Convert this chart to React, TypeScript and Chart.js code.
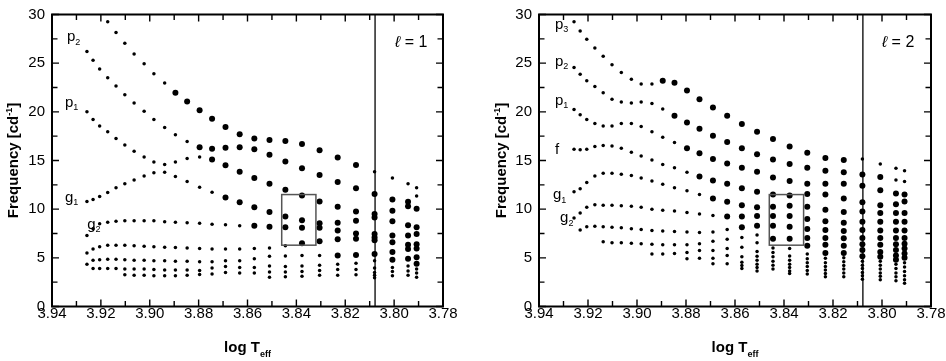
import React, { useEffect, useRef } from "react";
import { Chart, registerables } from "chart.js";

Chart.register(...registerables);

// Model columns (log Teff)
const logTeff = [
  3.9257, 3.9232, 3.9205, 3.9172, 3.9138, 3.9102, 3.9064, 3.9023, 3.8983,
  3.8939, 3.8895, 3.8847, 3.8796, 3.8745, 3.869, 3.8632, 3.8572, 3.851,
  3.8445, 3.8377, 3.8305, 3.8231, 3.8156, 3.808, 3.8007, 3.7943, 3.7908,
];

const xTicks = [3.94, 3.92, 3.9, 3.88, 3.86, 3.84, 3.82, 3.8, 3.78];
const yTicks = [0, 5, 10, 15, 20, 25, 30];

// l = 1 : frequencies per column, stable (small dots) and unstable (large dots)
const l1Small = [
  [26.2, 20.0, 10.8, 7.3, 5.5, 4.35],
  [25.3, 19.2, 11.0, 8.0, 5.9, 4.75, 3.9],
  [24.4, 18.55, 11.3, 8.5, 6.15, 4.8, 3.9],
  [29.25, 23.5, 17.95, 11.7, 8.65, 6.3, 4.85, 3.9],
  [28.15, 22.65, 17.25, 12.2, 8.75, 6.3, 4.85, 3.9],
  [27.05, 21.75, 16.6, 12.6, 8.8, 6.3, 4.8, 3.85, 3.25],
  [25.95, 20.9, 15.95, 13.0, 8.8, 6.25, 4.75, 3.85, 3.2],
  [24.95, 20.05, 15.35, 13.4, 8.8, 6.2, 4.75, 3.85, 3.2],
  [23.9, 19.2, 14.85, 13.75, 8.8, 6.15, 4.7, 3.8, 3.15],
  [22.95, 18.4, 14.6, 13.8, 8.7, 6.1, 4.7, 3.75, 3.15],
  [17.65, 14.85, 13.35, 8.65, 6.05, 4.65, 3.75, 3.15],
  [16.95, 15.2, 12.85, 8.6, 6.0, 4.65, 3.75, 3.2],
  [15.35, 12.25, 8.55, 5.95, 4.6, 3.7, 3.3],
  [11.75, 8.45, 5.9, 4.6, 3.95, 3.35],
  [8.4, 5.9, 4.7, 4.1, 3.5],
  [8.3, 5.9, 4.7, 4.0, 3.45],
  [5.95, 4.9, 4.0, 3.45],
  [6.0, 5.15, 4.15, 3.55, 3.0],
  [6.25, 5.2, 4.1, 3.55, 3.05],
  [5.25, 4.15, 3.6, 3.1],
  [5.25, 4.25, 3.7, 3.2],
  [4.35, 3.8, 3.2],
  [4.45, 3.8, 3.25],
  [13.85, 4.7, 3.95, 3.5, 3.2, 2.95],
  [13.2, 4.0, 3.6, 3.15],
  [12.6, 4.15, 3.65, 3.2],
  [12.2, 11.35, 3.85, 3.45, 3.0],
];
const l1Large = [
  [], [], [], [], [], [], [], [], [], [],
  [21.95],
  [21.05],
  [20.15, 16.35],
  [19.3, 16.2, 15.1],
  [18.45, 16.3, 14.5, 11.2],
  [17.7, 16.35, 13.85, 10.7],
  [17.25, 16.15, 13.2, 10.2, 8.3],
  [17.1, 15.6, 12.6, 9.7, 8.2],
  [17.0, 14.9, 12.0, 9.25, 8.15],
  [16.7, 14.2, 11.4, 8.85, 8.1, 6.5],
  [16.05, 13.5, 10.8, 8.55, 8.1, 6.7],
  [15.3, 12.8, 10.25, 8.6, 7.8, 6.9, 5.25],
  [14.55, 12.15, 9.75, 8.8, 7.5, 6.95, 5.3],
  [11.55, 9.5, 9.15, 7.45, 7.1, 6.8, 5.4],
  [11.0, 9.85, 8.75, 7.3, 6.6, 5.6, 4.8],
  [10.75, 10.3, 8.35, 7.3, 6.35, 5.9, 4.9],
  [10.05, 8.15, 7.45, 6.4, 5.95, 5.05, 4.4],
];

// l = 2
const l2Small = [
  [29.25, 24.55, 20.25, 16.15, 11.8, 9.1],
  [28.3, 23.85, 19.7, 16.1, 12.1, 9.6, 7.85],
  [27.45, 23.2, 19.2, 16.15, 12.75, 10.2, 8.2],
  [26.55, 22.6, 18.8, 16.45, 13.4, 10.45, 8.25],
  [25.7, 21.95, 18.55, 16.55, 13.7, 10.4, 8.2, 6.65],
  [24.85, 21.3, 18.55, 16.5, 13.7, 10.4, 8.15, 6.55],
  [24.05, 21.0, 18.8, 16.25, 13.6, 10.35, 8.1, 6.55],
  [23.35, 20.9, 18.8, 15.85, 13.45, 10.3, 8.0, 6.5],
  [22.85, 21.0, 18.5, 15.45, 13.2, 10.2, 7.9, 6.45],
  [22.85, 20.85, 17.95, 15.05, 12.9, 10.0, 7.8, 6.4, 5.4],
  [20.3, 17.4, 14.6, 12.55, 9.9, 7.75, 6.35, 5.4],
  [16.85, 14.25, 12.2, 9.8, 7.7, 6.35, 5.45],
  [13.8, 11.9, 9.65, 7.65, 6.35, 5.55, 4.9],
  [11.5, 9.5, 7.6, 6.45, 5.75, 4.95],
  [9.35, 7.65, 6.7, 5.75, 4.95, 4.4],
  [7.9, 6.9, 5.95, 5.25, 4.4],
  [7.1, 6.1, 5.1, 4.55, 4.2, 3.9],
  [7.35, 6.55, 5.65, 5.15, 4.75, 4.35, 4.0, 3.65],
  [6.0, 5.55, 5.1, 4.65, 4.25, 3.85],
  [5.95, 5.2, 4.75, 4.35, 4.0, 3.65, 3.4],
  [5.4, 4.9, 4.5, 4.1, 3.7, 3.35],
  [4.95, 4.5, 4.1, 3.75, 3.4, 3.05],
  [5.0, 4.6, 4.2, 3.85, 3.45, 3.05],
  [15.15, 4.65, 4.25, 3.9, 3.5, 3.15, 2.8],
  [14.65, 4.65, 4.25, 3.85, 3.45, 3.1, 2.75],
  [14.2, 13.0, 4.35, 3.9, 3.45, 3.05, 2.65],
  [13.95, 12.85, 4.5, 4.05, 3.6, 3.15, 2.75, 2.4],
];
const l2Large = [
  [], [], [], [], [], [], [], [], [], [],
  [23.2],
  [23.0, 19.6],
  [22.2, 18.9, 16.25],
  [21.3, 18.25, 15.75, 13.35],
  [20.45, 17.55, 15.15, 12.95, 11.1],
  [19.6, 16.9, 14.7, 12.6, 10.75, 9.25],
  [18.75, 16.25, 14.25, 12.15, 10.4, 9.25, 8.15],
  [17.95, 15.65, 13.85, 11.8, 10.2, 9.3, 8.3],
  [17.2, 15.1, 13.25, 11.5, 10.25, 9.3, 8.3, 6.95],
  [16.45, 14.65, 12.9, 11.4, 10.35, 9.3, 8.2, 6.95],
  [15.8, 14.25, 12.6, 11.55, 10.25, 9.0, 7.95, 7.05, 6.25],
  [15.25, 13.95, 12.6, 11.5, 9.95, 8.75, 7.85, 7.05, 6.35, 5.5],
  [15.05, 13.8, 12.6, 11.1, 9.7, 8.6, 7.75, 7.0, 6.25, 5.5],
  [13.55, 12.4, 10.7, 9.75, 8.7, 7.85, 7.05, 6.4, 5.8, 5.15],
  [13.3, 11.95, 10.4, 9.6, 8.7, 7.8, 7.05, 6.35, 5.6, 5.1],
  [11.6, 10.5, 9.6, 8.7, 7.8, 7.05, 6.4, 5.8, 5.25, 4.8],
  [11.5, 10.8, 9.6, 8.7, 7.8, 7.05, 6.45, 5.95, 5.45, 5.0],
];

// blue edge of instability strip and observed box
const edgeLogT = 3.8078;
const boxLogT = [3.846, 3.832];
const boxFreq = [6.3, 11.5];

const FONT = "'Liberation Sans', Arial, Helvetica, sans-serif";

type Lbl = { t: string; s: string; x: number; y: number };

const toPoints = (cols: number[][]) =>
  cols.flatMap((fs, i) => fs.map((f) => ({ x: logTeff[i], y: f })));

function drawParts(
  ctx: CanvasRenderingContext2D,
  parts: { text: string; font: string; dy: number }[],
  x0: number,
  y0: number,
  center: boolean
) {
  let total = 0;
  for (const p of parts) {
    ctx.font = p.font;
    total += ctx.measureText(p.text).width;
  }
  let x = center ? x0 - total / 2 : x0;
  for (const p of parts) {
    ctx.font = p.font;
    ctx.fillText(p.text, x, y0 + p.dy);
    x += ctx.measureText(p.text).width;
  }
}

function makePlugin(labels: Lbl[], ell: { t: string; x: number; y: number }, titleX: number) {
  return {
    id: "decor",
    afterDraw(chart: any) {
      const { ctx, chartArea } = chart;
      const { left, right, top, bottom } = chartArea;
      const xs = chart.scales.x;
      const ys = chart.scales.y;
      ctx.save();
      ctx.fillStyle = "#000";
      ctx.strokeStyle = "#000";

      // instability edge line
      const ex = xs.getPixelForValue(edgeLogT);
      ctx.lineWidth = 1.3;
      ctx.beginPath();
      ctx.moveTo(ex, top);
      ctx.lineTo(ex, bottom);
      ctx.stroke();

      // box
      const bx1 = xs.getPixelForValue(boxLogT[0]);
      const bx2 = xs.getPixelForValue(boxLogT[1]);
      const by1 = ys.getPixelForValue(boxFreq[1]);
      const by2 = ys.getPixelForValue(boxFreq[0]);
      ctx.strokeStyle = "#555";
      ctx.lineWidth = 1.5;
      ctx.strokeRect(bx1, by1, bx2 - bx1, by2 - by1);

      // frame
      ctx.strokeStyle = "#000";
      ctx.lineWidth = 2;
      ctx.strokeRect(left, top, right - left, bottom - top);

      // inward ticks
      ctx.lineWidth = 1.4;
      ctx.beginPath();
      for (let k = 0; k <= 16; k++) {
        const v = 3.78 + k * 0.01;
        const px = xs.getPixelForValue(v);
        const len = k % 2 === 0 ? 7 : 5.5;
        ctx.moveTo(px, bottom);
        ctx.lineTo(px, bottom - len);
        ctx.moveTo(px, top);
        ctx.lineTo(px, top + len);
      }
      for (let k = 0; k <= 12; k++) {
        const v = k * 2.5;
        const py = ys.getPixelForValue(v);
        const len = k % 2 === 0 ? 7 : 5.5;
        ctx.moveTo(left, py);
        ctx.lineTo(left + len, py);
        ctx.moveTo(right, py);
        ctx.lineTo(right - len, py);
      }
      ctx.stroke();

      // mode labels
      ctx.textBaseline = "alphabetic";
      ctx.textAlign = "left";
      for (const l of labels) {
        const px = xs.getPixelForValue(l.x);
        const py = ys.getPixelForValue(l.y);
        drawParts(
          ctx,
          [
            { text: l.t, font: `15px ${FONT}`, dy: 0 },
            { text: l.s, font: `9px ${FONT}`, dy: 3.5 },
          ],
          px,
          py,
          false
        );
      }

      // degree label
      {
        const px = xs.getPixelForValue(ell.x);
        const py = ys.getPixelForValue(ell.y);
        drawParts(
          ctx,
          [
            { text: "\u2113", font: `italic 16px ${FONT}`, dy: 0 },
            { text: " = " + ell.t, font: `16px ${FONT}`, dy: 0 },
          ],
          px,
          py,
          false
        );
      }

      // x title
      drawParts(
        ctx,
        [
          { text: "log T", font: `bold 15px ${FONT}`, dy: 0 },
          { text: "eff", font: `bold 9px ${FONT}`, dy: 5 },
        ],
        (left + right) / 2,
        352,
        true
      );

      // y title (rotated)
      ctx.translate(titleX, (top + bottom) / 2);
      ctx.rotate(-Math.PI / 2);
      drawParts(
        ctx,
        [
          { text: "Frequency [cd", font: `bold 15px ${FONT}`, dy: 0 },
          { text: "-1", font: `bold 9px ${FONT}`, dy: -6 },
          { text: "]", font: `bold 15px ${FONT}`, dy: 0 },
        ],
        0,
        5.5,
        true
      );
      ctx.restore();
    },
  };
}

function Panel(props: {
  small: number[][];
  large: number[][];
  labels: Lbl[];
  ell: { t: string; x: number; y: number };
  yWidth: number;
  padRight: number;
  titleX: number;
  leftPos: number;
}) {
  const ref = useRef<HTMLCanvasElement | null>(null);
  useEffect(() => {
    if (!ref.current) return;
    const tickFont = { family: FONT, size: 15, lineHeight: 1 };
    const chart = new Chart(ref.current, {
      type: "scatter",
      data: {
        datasets: [
          {
            data: toPoints(props.small),
            pointRadius: 1.75,
            pointBackgroundColor: "#000",
            pointBorderWidth: 0,
            showLine: false,
          },
          {
            data: toPoints(props.large),
            pointRadius: 3,
            pointBackgroundColor: "#000",
            pointBorderWidth: 0,
            showLine: false,
          },
        ],
      },
      options: {
        animation: false,
        responsive: false,
        maintainAspectRatio: false,
        layout: { padding: { left: 0, right: props.padRight, top: 7.5, bottom: 0 } },
        plugins: { legend: { display: false }, tooltip: { enabled: false } },
        scales: {
          x: {
            type: "linear",
            reverse: true,
            min: 3.78,
            max: 3.94,
            grid: { display: false, drawTicks: false },
            border: { display: false },
            ticks: {
              color: "#000",
              font: tickFont,
              padding: 0,
              maxRotation: 0,
              autoSkip: false,
              callback: (v: any) => Number(v).toFixed(2),
            },
            afterBuildTicks: (s: any) => {
              s.ticks = xTicks.map((v) => ({ value: v }));
            },
            afterFit: (s: any) => {
              s.height = 54.5;
            },
          },
          y: {
            type: "linear",
            min: 0,
            max: 30,
            grid: { display: false, drawTicks: false },
            border: { display: false },
            ticks: {
              color: "#000",
              font: tickFont,
              padding: 7,
              autoSkip: false,
              callback: (v: any) => String(v),
            },
            afterBuildTicks: (s: any) => {
              s.ticks = yTicks.map((v) => ({ value: v }));
            },
            afterFit: (s: any) => {
              s.width = props.yWidth;
            },
          },
        },
      },
      plugins: [makePlugin(props.labels, props.ell, props.titleX)],
    } as any);
    return () => chart.destroy();
  }, []);
  return (
    <canvas
      ref={ref}
      width={473}
      height={361}
      style={{ position: "absolute", left: props.leftPos, top: 0, width: 473, height: 361 }}
    />
  );
}

export default function App() {
  const labels1: Lbl[] = [
    { t: "p", s: "2", x: 3.9339, y: 27.24 },
    { t: "p", s: "1", x: 3.9347, y: 20.52 },
    { t: "g", s: "1", x: 3.9347, y: 10.74 },
    { t: "g", s: "2", x: 3.9256, y: 7.98 },
  ];
  const labels2: Lbl[] = [
    { t: "p", s: "3", x: 3.9335, y: 28.54 },
    { t: "p", s: "2", x: 3.9335, y: 24.73 },
    { t: "p", s: "1", x: 3.9335, y: 20.72 },
    { t: "f", s: "", x: 3.9335, y: 15.7 },
    { t: "g", s: "1", x: 3.9343, y: 11.04 },
    { t: "g", s: "2", x: 3.9314, y: 8.68 },
  ];
  return (
    <div
      style={{
        position: "fixed",
        left: 0,
        top: 0,
        width: 946,
        height: 361,
        background: "#fff",
      }}
    >
      <Panel
        small={l1Small}
        large={l1Large}
        labels={labels1}
        ell={{ t: "1", x: 3.7996, y: 26.67 }}
        yWidth={52}
        padRight={30}
        titleX={12}
        leftPos={0}
      />
      <Panel
        small={l2Small}
        large={l2Large}
        labels={labels2}
        ell={{ t: "2", x: 3.8, y: 26.67 }}
        yWidth={66}
        padRight={15}
        titleX={27}
        leftPos={473}
      />
    </div>
  );
}
